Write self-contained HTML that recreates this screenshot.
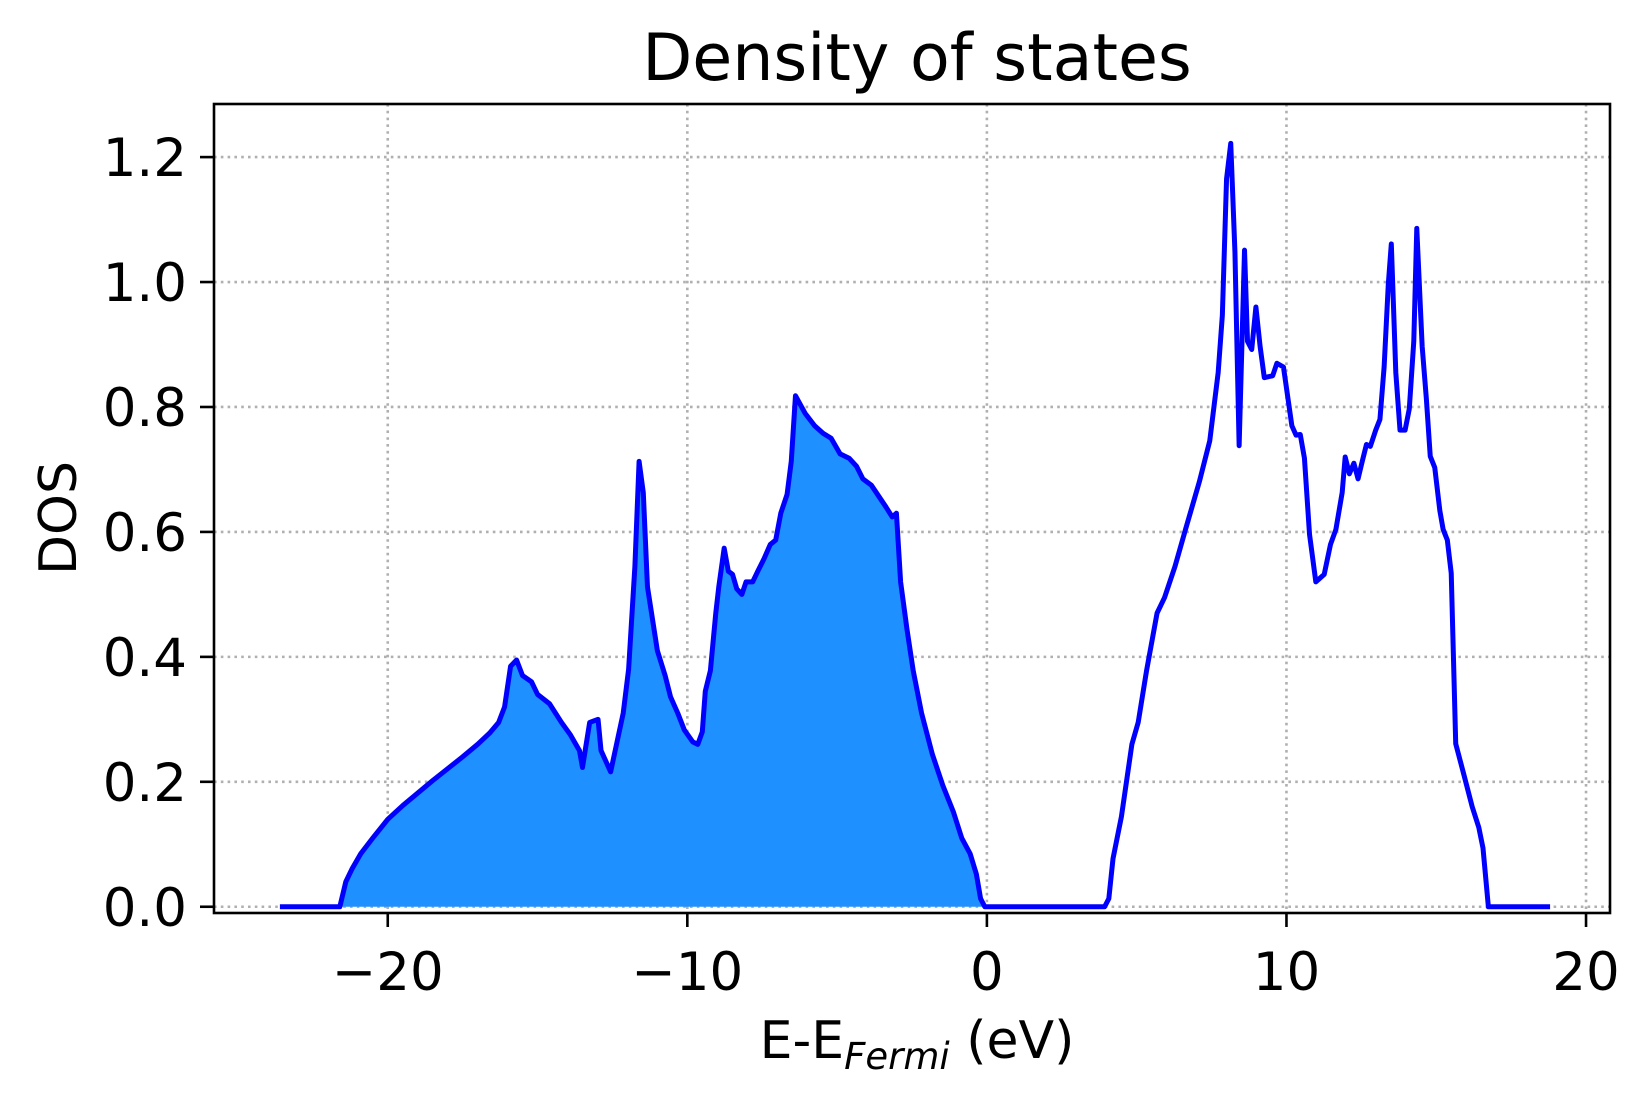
<!DOCTYPE html>
<html><head><meta charset="utf-8"><style>
html,body{margin:0;padding:0;background:#fff;}
svg{display:block;font-family:"DejaVu Sans","Liberation Sans",sans-serif;}
</style></head><body>
<svg id="chart" width="1648" height="1094" viewBox="0 0 1648 1094" xmlns="http://www.w3.org/2000/svg">
<rect x="0" y="0" width="1648" height="1094" fill="#fff"/>
<g id="grid"></g>
<g id="series"></g>
<g id="axes"></g>
<text x="917" y="80" font-size="65" text-anchor="middle">Density of states</text>
<text x="917" y="1058" font-size="52" text-anchor="middle">E-E<tspan font-style="italic" font-size="37" dy="11">Fermi</tspan><tspan dy="-11"> (eV)</tspan></text>
<text x="0" y="0" font-size="52" text-anchor="middle" transform="translate(76,518) rotate(-90)">DOS</text>
</svg>
<script>
const energies = [-23.6,-21.6,-21.4,-21.2,-20.9,-20.5,-20,-19.5,-19,-18.5,-18,-17.5,-17,-16.6,-16.3,-16.1,-15.9,-15.7,-15.5,-15.2,-15.0,-14.6,-14.2,-13.9,-13.6,-13.5,-13.26,-12.98,-12.88,-12.56,-12.14,-11.96,-11.75,-11.61,-11.47,-11.33,-11.0,-10.74,-10.56,-10.32,-10.1,-9.82,-9.65,-9.5,-9.4,-9.23,-9.05,-8.95,-8.77,-8.63,-8.49,-8.35,-8.18,-8.04,-7.82,-7.65,-7.44,-7.23,-7.05,-6.88,-6.67,-6.53,-6.39,-6.07,-5.75,-5.47,-5.2,-4.9,-4.6,-4.35,-4.14,-3.86,-3.58,-3.37,-3.16,-3.02,-2.88,-2.67,-2.46,-2.18,-1.82,-1.47,-1.12,-0.84,-0.56,-0.35,-0.21,-0.07,3.93,4.07,4.21,4.49,4.84,5.05,5.33,5.68,5.93,6.28,6.63,7.09,7.44,7.72,7.86,8.0,8.14,8.28,8.42,8.6,8.7,8.84,8.98,9.12,9.26,9.54,9.68,9.9,10.04,10.18,10.32,10.46,10.6,10.77,10.98,11.26,11.47,11.65,11.86,11.96,12.1,12.25,12.39,12.53,12.67,12.8,12.98,13.12,13.26,13.4,13.5,13.65,13.79,13.96,14.1,14.25,14.35,14.53,14.67,14.8,14.95,15.12,15.23,15.37,15.5,15.65,15.93,16.2,16.42,16.56,16.74,18.8];
const dosValues = [0,0,0.04,0.06,0.085,0.11,0.14,0.162,0.182,0.202,0.221,0.24,0.26,0.278,0.295,0.32,0.385,0.395,0.37,0.36,0.34,0.325,0.295,0.275,0.25,0.223,0.295,0.30,0.25,0.216,0.31,0.38,0.545,0.713,0.663,0.512,0.41,0.37,0.336,0.31,0.283,0.264,0.26,0.28,0.345,0.378,0.47,0.512,0.574,0.537,0.532,0.509,0.5,0.52,0.52,0.537,0.557,0.58,0.587,0.63,0.66,0.713,0.818,0.79,0.77,0.758,0.75,0.725,0.718,0.705,0.685,0.675,0.655,0.64,0.624,0.63,0.52,0.445,0.378,0.31,0.244,0.194,0.152,0.11,0.085,0.052,0.013,0,0,0.013,0.077,0.144,0.26,0.295,0.378,0.47,0.495,0.545,0.604,0.68,0.746,0.855,0.947,1.165,1.222,1.048,0.738,1.051,0.905,0.892,0.96,0.897,0.847,0.85,0.87,0.864,0.817,0.77,0.755,0.756,0.718,0.596,0.52,0.532,0.58,0.604,0.663,0.72,0.693,0.71,0.685,0.713,0.74,0.737,0.763,0.78,0.864,0.997,1.061,0.855,0.763,0.763,0.797,0.905,1.086,0.897,0.813,0.721,0.703,0.634,0.604,0.587,0.534,0.261,0.21,0.16,0.127,0.094,0,0];
const xTicks = [-20,-10,0,10,20];
const xTickLabels = ["\u221220","\u221210","0","10","20"];
const yTicks = [0,0.2,0.4,0.6,0.8,1.0,1.2];
const yTickLabels = ["0.0","0.2","0.4","0.6","0.8","1.0","1.2"];

const L=214,R=1610,T=104,B=913;
const xMin=-25.8,xMax=20.8,yMin=-0.01,yMax=1.285;
const X=v=>L+(v-xMin)/(xMax-xMin)*(R-L);
const Y=v=>B-(v-yMin)/(yMax-yMin)*(B-T);
const NS="http://www.w3.org/2000/svg";
function mk(tag,parent,attrs){const e=document.createElementNS(NS,tag);for(const k in attrs)e.setAttribute(k,attrs[k]);parent.appendChild(e);return e;}
const grid=document.getElementById('grid'),series=document.getElementById('series'),axes=document.getElementById('axes');

xTicks.forEach((t,i)=>{
  const g=mk('line',grid,{x1:X(t),x2:X(t),y1:T,y2:B,stroke:'#b0b0b0','stroke-width':2.6,'stroke-dasharray':'2.6,4.2'});
  
  
  const tk=mk('line',axes,{x1:X(t),x2:X(t),y1:B,y2:B+14,stroke:'#000','stroke-width':2.6});
  
  
  const tx=mk('text',axes,{x:X(t),y:B+77,'font-size':53,'text-anchor':'middle'});
  tx.textContent=xTickLabels[i];
  
  
});
yTicks.forEach((t,i)=>{
  const g=mk('line',grid,{x1:L,x2:R,y1:Y(t),y2:Y(t),stroke:'#b0b0b0','stroke-width':2.6,'stroke-dasharray':'2.6,4.2'});
  
  
  const tk=mk('line',axes,{x1:L-14,x2:L,y1:Y(t),y2:Y(t),stroke:'#000','stroke-width':2.6});
  
  
  const tx=mk('text',axes,{x:L-27,y:Y(t)+19,'font-size':53,'text-anchor':'end'});
  tx.textContent=yTickLabels[i];
  
  
});

let fp=[];
energies.forEach((e,i)=>{if(e<=0)fp.push(X(e)+','+Y(dosValues[i]));});
const firstE=energies[0];let lastNeg=energies.filter(e=>e<=0).pop();
const fill=mk('polygon',series,{points:X(firstE)+','+Y(0)+' '+fp.join(' ')+' '+X(lastNeg)+','+Y(0),fill:'#1e90ff',stroke:'none'});



const line=mk('polyline',series,{points:energies.map((e,i)=>X(e)+','+Y(dosValues[i])).join(' '),fill:'none',stroke:'#0000ff','stroke-width':5,'stroke-linejoin':'round'});



const frame=mk('rect',axes,{x:L,y:T,width:R-L,height:B-T,fill:'none',stroke:'#000','stroke-width':2.6});


</script>
</body></html>
